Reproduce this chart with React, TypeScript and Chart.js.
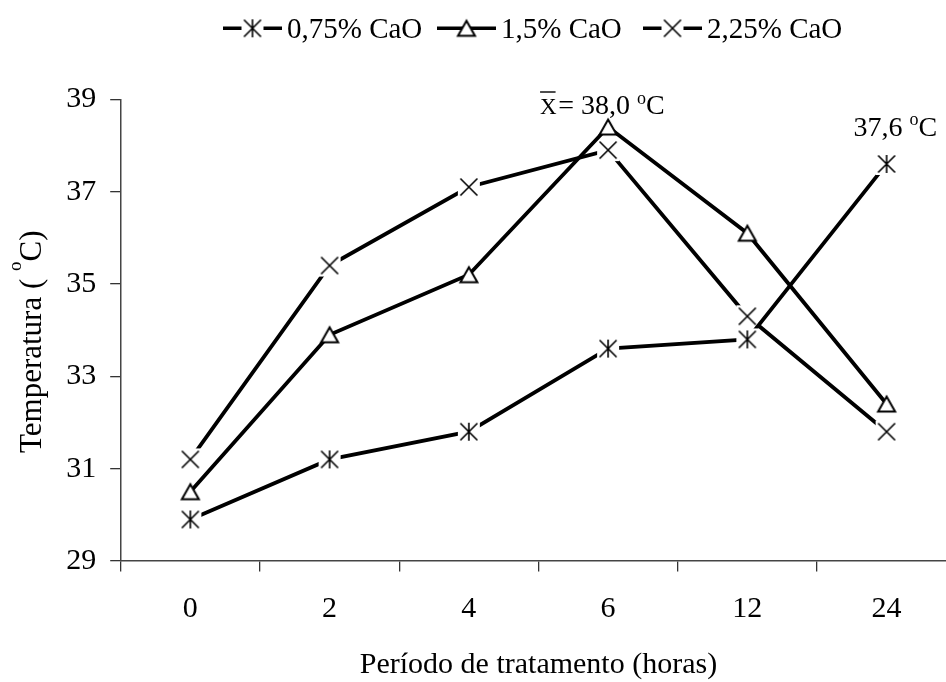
import React, { useEffect, useRef } from "react";
import { Chart, registerables } from "chart.js";

Chart.register(...registerables);

// Treatment periods (hours) and mean temperature (°C) for each CaO dose
const periods = ["0", "2", "4", "6", "12", "24"];
const cao075 = [29.9, 31.2, 31.8, 33.6, 33.8, 37.6];
const cao150 = [30.5, 33.9, 35.2, 38.4, 36.1, 32.4];
const cao225 = [31.2, 35.4, 37.1, 37.9, 34.3, 31.8];
const seriesNames = ["0,75% CaO", "1,5% CaO", "2,25% CaO"];
const yTicks = [29, 31, 33, 35, 37, 39];

const xTitle = "Período de tratamento (horas)";
const yTitle = "Temperatura ( ";

const FAMILY = "'Liberation Serif', 'Times New Roman', serif";
const CANVAS_W = 970;
const CANVAS_H = 682;
const PLOT_LEFT = 120.7;
const PLOT_RIGHT = 956.5;
const PLOT_TOP = 99.3;
const PLOT_BOTTOM = 561;
const LINE_W = 3.8;

const fmt = (v: number) => v.toFixed(1).replace(".", ",");

// mean of the peak temperature reached by each dose
const peaks = [cao075, cao150, cao225].map((s) => Math.max(...s));
const meanPeak = peaks.reduce((a, b) => a + b, 0) / peaks.length;

type Kind = "asterisk" | "triangle" | "cross";

function makeMarker(kind: Kind): HTMLCanvasElement {
  const size = 24;
  const c = document.createElement("canvas");
  c.width = size;
  c.height = size;
  const g = c.getContext("2d")!;
  const m = size / 2;
  const h = 8.5;
  g.strokeStyle = "#000";
  g.lineCap = "butt";
  if (kind === "triangle") {
    g.beginPath();
    g.moveTo(m, m - 7.5);
    g.lineTo(m + 8.5, m + 7.5);
    g.lineTo(m - 8.5, m + 7.5);
    g.closePath();
    g.fillStyle = "#fff";
    g.fill();
    g.lineWidth = 2;
    g.stroke();
    return c;
  }
  g.fillStyle = "#fff";
  g.fillRect(1, 1, size - 2, size - 2);
  g.lineWidth = 1.6;
  g.beginPath();
  g.moveTo(m - h, m - h);
  g.lineTo(m + h, m + h);
  g.moveTo(m + h, m - h);
  g.lineTo(m - h, m + h);
  if (kind === "asterisk") {
    g.moveTo(m, m - h - 0.5);
    g.lineTo(m, m + h + 0.5);
  }
  g.stroke();
  return c;
}

type Part = { text: string; size: number; rise?: number };

function drawParts(ctx: CanvasRenderingContext2D, x: number, y: number, parts: Part[]) {
  let cx = x;
  for (const p of parts) {
    ctx.font = `${p.size}px ${FAMILY}`;
    ctx.fillText(p.text, cx, y - (p.rise || 0));
    cx += ctx.measureText(p.text).width;
  }
  return cx;
}

export default function App() {
  const ref = useRef<HTMLCanvasElement>(null);

  useEffect(() => {
    const canvas = ref.current;
    if (!canvas) return;
    const markers = [makeMarker("asterisk"), makeMarker("triangle"), makeMarker("cross")];
    const seriesData = [cao075, cao150, cao225];

    const overlay = {
      id: "overlay",
      afterDraw(chart: Chart) {
        const ctx = chart.ctx;
        const xs = chart.scales.x;
        const ys = chart.scales.y;
        ctx.save();
        ctx.fillStyle = "#000";
        ctx.textAlign = "left";
        ctx.textBaseline = "alphabetic";

        // legend
        const legendX = [223, 437, 643];
        const lineY = 28.3;
        seriesNames.forEach((name, i) => {
          const x0 = legendX[i];
          ctx.strokeStyle = "#000";
          ctx.lineWidth = 3.5;
          ctx.beginPath();
          ctx.moveTo(x0, lineY);
          ctx.lineTo(x0 + 59, lineY);
          ctx.stroke();
          const mk = markers[i];
          ctx.drawImage(mk, x0 + 29.5 - mk.width / 2, lineY - mk.height / 2);
          drawParts(ctx, x0 + 64, 38.3, [{ text: name, size: 29 }]);
        });

        // y axis title
        ctx.save();
        ctx.translate(40.7, 453);
        ctx.rotate(-Math.PI / 2);
        drawParts(ctx, 0, 0, [
          { text: yTitle, size: 31 },
          { text: "o", size: 19, rise: 19.5 },
          { text: "C)", size: 31 },
        ]);
        ctx.restore();

        // mean peak label above the highest point
        const peakIdx = cao150.indexOf(Math.max(...cao150));
        const mx = xs.getPixelForValue(peakIdx) - 68;
        const my = ys.getPixelForValue(cao150[peakIdx]) - 13.4;
        ctx.font = `23px ${FAMILY}`;
        const xw = ctx.measureText("X").width;
        drawParts(ctx, mx, my, [{ text: "X", size: 23 }]);
        ctx.lineWidth = 1.4;
        ctx.beginPath();
        ctx.moveTo(mx, my - 21.6);
        ctx.lineTo(mx + 15.5, my - 21.6);
        ctx.stroke();
        drawParts(ctx, mx + xw + 1.5, my, [
          { text: "= " + fmt(meanPeak) + " ", size: 28 },
          { text: "o", size: 18, rise: 10 },
          { text: "C", size: 28 },
        ]);

        // final value of the 0,75% series
        const last = cao075.length - 1;
        const px = xs.getPixelForValue(last) - 33;
        const py = ys.getPixelForValue(cao075[last]) - 28;
        drawParts(ctx, px, py, [
          { text: fmt(cao075[last]) + " ", size: 28 },
          { text: "o", size: 18, rise: 11 },
          { text: "C", size: 28 },
        ]);
        ctx.restore();
      },
    };

    const tickFont = { family: FAMILY, size: 30 };
    const chart = new Chart(canvas, {
      type: "line",
      data: {
        labels: periods,
        datasets: seriesNames.map((name, i) => ({
          label: name,
          data: seriesData[i],
          borderColor: "#000",
          backgroundColor: "#fff",
          borderWidth: LINE_W,
          pointStyle: markers[i] as any,
          pointRadius: 10,
          pointHoverRadius: 10,
          tension: 0,
          fill: false,
          clip: false as any,
        })),
      },
      options: {
        animation: false,
        responsive: false,
        events: [],
        layout: {
          padding: { top: PLOT_TOP, left: 0, right: CANVAS_W - PLOT_RIGHT, bottom: 0 },
        },
        plugins: {
          legend: { display: false },
          tooltip: { enabled: false },
          title: { display: false },
        },
        scales: {
          x: {
            type: "category",
            offset: true,
            grid: {
              offset: true,
              drawOnChartArea: false,
              drawTicks: true,
              tickLength: 10.5,
              color: "#333",
              lineWidth: 1.3,
            },
            border: { display: true, color: "#444", width: 1.5 },
            ticks: {
              font: tickFont,
              color: "#000",
              padding: 20,
              maxRotation: 0,
              autoSkip: false,
            },
            title: {
              display: true,
              text: xTitle,
              color: "#000",
              font: { family: FAMILY, size: 30, lineHeight: 1 },
              padding: { top: 0, bottom: 2 },
            },
            afterFit: (s: any) => {
              s.height = CANVAS_H - PLOT_BOTTOM;
            },
          },
          y: {
            min: yTicks[0],
            max: yTicks[yTicks.length - 1],
            afterBuildTicks: (s: any) => {
              s.ticks = yTicks.map((v) => ({ value: v }));
            },
            grid: {
              drawOnChartArea: false,
              drawTicks: true,
              tickLength: 10.5,
              color: "#333",
              lineWidth: 1.3,
            },
            border: { display: true, color: "#444", width: 1.5 },
            ticks: {
              font: tickFont,
              color: "#000",
              padding: 14,
            },
            afterFit: (s: any) => {
              s.width = PLOT_LEFT;
            },
          },
        },
      },
      plugins: [overlay],
    });

    return () => chart.destroy();
  }, []);

  return (
    <div
      style={{
        position: "fixed",
        left: 0,
        top: 0,
        width: 946,
        height: 682,
        overflow: "hidden",
        background: "#fff",
      }}
    >
      <canvas
        ref={ref}
        width={CANVAS_W}
        height={CANVAS_H}
        style={{ display: "block", width: CANVAS_W, height: CANVAS_H }}
      />
    </div>
  );
}
